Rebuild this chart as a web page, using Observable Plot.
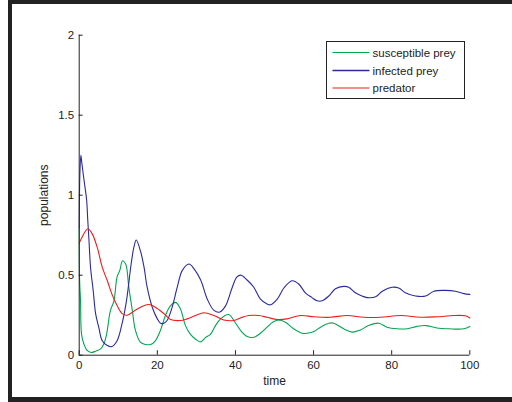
<!DOCTYPE html>
<html>
<head>
<meta charset="utf-8">
<script src="https://cdn.jsdelivr.net/npm/d3@7"></script>
<script src="https://cdn.jsdelivr.net/npm/@observablehq/plot@0.6"></script>
<style>
  html, body { margin: 0; padding: 0; background: #fff; overflow: hidden; }
  #wrap { position: relative; width: 512px; height: 402px; overflow: hidden; font-family: "Liberation Sans", Arial, sans-serif; }
  #frame { position: absolute; left: 8px; top: 0; width: 530px; height: 402px; box-sizing: border-box;
           border-left: 4px solid #222; border-top: 4px solid #222; border-bottom: 5px solid #222; pointer-events: none; }
  #legend { position: absolute; left: 326px; top: 41px; width: 139px; height: 58px; box-sizing: border-box;
            border: 1.5px solid #222; background: #fff; }
  #legend svg { position: absolute; left: 0; top: 0; }
</style>
</head>
<body>
<div id="wrap"><div id="frame"></div></div>
<script>
// x-axis / y-axis tick labels
const xTicks = [0, 20, 40, 60, 80, 100];
const yTicks = [0, 0.5, 1, 1.5, 2];

const seriesNames = ["susceptible prey", "infected prey", "predator"];
const seriesColors = ["#00a651", "#2b2b9b", "#ee1c1c"];

// susceptible prey
const timeS = [0,0.1,0.34,0.6,1.2,2.0,3.1,4.2,5.5,6.3,7.0,8.0,8.9,9.7,10.4,11.1,11.9,12.7,13.6,14.4,15.7,17.0,18.3,19.5,20.8,22.1,23.4,24.7,25.9,27.2,28.5,29.8,31.1,32.3,33.6,34.9,36.2,38.3,39.6,41.3,43.0,44.7,46.4,48.1,49.8,51.1,52.8,54.9,57.1,58.4,60.1,61.8,63.9,65.2,67.7,69.9,72.0,74.1,76.7,78.8,81.4,84.0,86.5,88.7,91.6,94.6,98.5,100];
const susceptible = [0.8,0.47,0.34,0.13,0.07,0.03,0.017,0.025,0.04,0.07,0.13,0.28,0.34,0.49,0.53,0.59,0.57,0.425,0.28,0.155,0.08,0.067,0.067,0.09,0.155,0.25,0.31,0.33,0.29,0.185,0.13,0.10,0.083,0.11,0.13,0.185,0.227,0.254,0.217,0.155,0.117,0.112,0.137,0.175,0.21,0.22,0.206,0.165,0.137,0.137,0.148,0.175,0.20,0.20,0.165,0.144,0.158,0.185,0.20,0.175,0.165,0.165,0.18,0.185,0.17,0.165,0.165,0.18];

// infected prey
const timeI = [0,0.17,0.43,0.68,0.94,1.37,1.9,2.2,2.5,2.9,3.6,4.2,5.0,5.9,7.2,8.4,9.7,11.0,12.1,13.3,14.0,14.6,15.7,16.6,17.4,18.7,20.0,20.8,21.7,22.5,23.8,25.1,26.4,28.1,29.4,31.1,32.8,34.5,36.0,37.5,39.2,40.4,41.5,43,44.7,46.4,48.1,49,50.7,52.4,54.5,56.2,57.9,59.6,60.9,62.2,63.9,65.6,67.7,69,70.7,72.4,73.7,75.9,77.6,80.1,81.8,83.5,86.1,88.7,90.8,93.8,96.3,98.5,100];
const infected = [0.8,1.13,1.25,1.20,1.15,1.07,0.97,0.84,0.72,0.55,0.40,0.26,0.175,0.09,0.06,0.054,0.09,0.20,0.34,0.57,0.675,0.72,0.65,0.55,0.425,0.30,0.227,0.20,0.20,0.217,0.30,0.425,0.53,0.57,0.54,0.47,0.35,0.28,0.27,0.31,0.425,0.49,0.50,0.47,0.425,0.35,0.32,0.315,0.35,0.42,0.465,0.445,0.39,0.36,0.34,0.34,0.37,0.415,0.43,0.425,0.39,0.37,0.36,0.365,0.40,0.425,0.42,0.39,0.37,0.37,0.40,0.405,0.40,0.385,0.38];

// predator
const timeP = [0,0.8,2.2,3.3,4.6,5.9,7.2,8.4,9.7,11.0,12.3,14.0,15.7,17.8,19.5,21.7,23.4,25.9,27.6,29.8,31.9,34.5,37.0,39.6,41.3,43.4,46.0,48.1,50.7,53.2,56.7,60.1,64.3,68.6,72.9,77.1,82.3,87.4,91.6,95.9,98.9,100];
const predator = [0.70,0.74,0.79,0.76,0.675,0.55,0.465,0.38,0.31,0.26,0.25,0.275,0.30,0.317,0.30,0.26,0.223,0.217,0.227,0.248,0.265,0.248,0.22,0.217,0.233,0.248,0.248,0.237,0.223,0.227,0.248,0.24,0.237,0.248,0.237,0.237,0.248,0.237,0.24,0.248,0.246,0.233];

const rows = [];
[[timeS, susceptible], [timeI, infected], [timeP, predator]].forEach(([ts, vs], k) => {
  ts.forEach((t, i) => rows.push({time: t, value: vs[i], series: seriesNames[k]}));
});

const plot = Plot.plot({
  width: 512,
  height: 402,
  marginLeft: 78.7,
  marginRight: 42.7,
  marginTop: 34.7,
  marginBottom: 47.3,
  style: {fontFamily: "'Liberation Sans', Arial, sans-serif", fontSize: "11.5px", color: "#222", background: "transparent"},
  x: {domain: [0, 100]},
  y: {domain: [0, 2]},
  color: {domain: seriesNames.slice(), range: seriesColors.slice()},
  marks: [
    Plot.line(rows, {x: "time", y: "value", z: "series", stroke: "series", strokeWidth: 1.1, curve: "catmull-rom"}),
    Plot.ruleX([0], {stroke: "#222"}),
    Plot.ruleY([0], {stroke: "#222"}),
    Plot.ruleX(xTicks, {x: d => d, y1: 0, y2: 0.028, stroke: "#222"}),
    Plot.ruleY(yTicks, {y: d => d, x1: 0, x2: 1.0, stroke: "#222"}),
    Plot.axisX(xTicks, {tickSize: 0, tickPadding: 6, fontSize: 11.5, tickFormat: d => String(d), label: null}),
    Plot.axisX([], {tickSize: 0, fontSize: 12, label: "time", labelAnchor: "center", labelOffset: 30, labelArrow: "none"}),
    Plot.axisY(yTicks, {tickSize: 0, tickPadding: 5, fontSize: 11.5, tickFormat: d => String(d), label: null}),
    Plot.axisY([], {tickSize: 0, fontSize: 12, label: "populations", labelAnchor: "center", labelOffset: 40, labelArrow: "none"})
  ]
});

const wrap = document.getElementById("wrap");
plot.style.position = "absolute";
plot.style.left = "0";
plot.style.top = "0";
wrap.insertBefore(plot, wrap.firstChild);

// legend (HTML box with an SVG inside)
const legend = document.createElement("div");
legend.id = "legend";
wrap.appendChild(legend);
const lsvg = d3.select(legend).append("svg").attr("width", 136).attr("height", 55);
const rowY = [10.5, 28.5, 46];
seriesNames.forEach((name, i) => {
  lsvg.append("line")
    .attr("x1", 5.5).attr("x2", 42.5)
    .attr("y1", rowY[i]).attr("y2", rowY[i])
    .attr("stroke", seriesColors[i]).attr("stroke-width", i === 1 ? 1.6 : 1.2);
  lsvg.append("text")
    .attr("x", 45.5).attr("y", rowY[i]).attr("dy", "0.36em")
    .attr("fill", "#222")
    .style("font-family", "'Liberation Sans', Arial, sans-serif")
    .style("font-size", "11.5px")
    .text(name);
});
</script>
</body>
</html>
